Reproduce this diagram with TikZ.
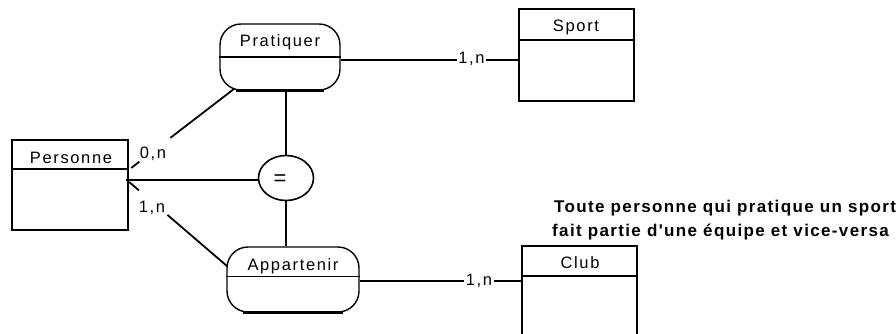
\documentclass[tikz,border=0pt]{standalone}
\usepackage{fontspec}
\setmainfont{Liberation Sans}
\newfontfamily\labfont[LetterSpace=10]{Liberation Sans}
\newfontfamily\notefont[LetterSpace=8]{Liberation Sans}
\usetikzlibrary{shapes.geometric,calc}
\begin{document}
\begin{tikzpicture}[x=1pt,y=-1pt,
  entity/.style={draw, line width=2.3pt, inner sep=0pt},
  relbox/.style={draw, line width=1.4pt, rounded corners=21pt, inner sep=0pt},
  eqshape/.style={draw, ellipse, line width=1.6pt, inner sep=0pt},
  divider/.style={line width=2pt},
  thickbottom/.style={line width=2.8pt},
  conn/.style={line width=2.9pt},
  thinconn/.style={line width=1.8pt},
  lab/.style={font=\labfont\fontsize{16.5}{19}\selectfont, inner sep=0pt, anchor=base},
  card/.style={lab, fill=white, inner xsep=1.5pt, inner ysep=1pt},
  note/.style={font=\notefont\bfseries\fontsize{17}{20}\selectfont, inner sep=0pt, anchor=base west}
]
\useasboundingbox (0,0) rectangle (896,333);

% entities
\node[entity, minimum width=116pt, minimum height=90pt] (pers) at (70,185) {};
\draw[divider] ([yshift=-30pt]pers.north west) -- ([yshift=-30pt]pers.north east);
\node[lab] (perst) at (71,163) {Personne};

\node[entity, minimum width=115pt, minimum height=92pt] (sport) at (576.5,55) {};
\draw[divider] ([yshift=-32pt]sport.north west) -- ([yshift=-32pt]sport.north east);
\node[lab] (sportt) at (576,31.5) {Sport};

\node[entity, minimum width=115pt, minimum height=110pt] (club) at (579.5,301) {};
\draw[divider] ([yshift=-31pt]club.north west) -- ([yshift=-31pt]club.north east);
\node[lab] (clubt) at (580,268) {Club};

% relations
\node[relbox, minimum width=120pt, minimum height=66pt] (prat) at (280,57) {};
\draw[line width=1.4pt] (prat.west) -- (prat.east);
\draw[thickbottom] ([xshift=17pt]prat.south west) -- ([xshift=-17pt]prat.south east);
\node[lab] (pratt) at (280,46.5) {Pratiquer};

\node[relbox, minimum width=132pt, minimum height=65pt] (app) at (293,279.5) {};
\draw[line width=1.4pt] ([yshift=-30pt]app.north west) -- ([yshift=-30pt]app.north east);
\draw[thickbottom] ([xshift=17pt]app.south west) -- ([xshift=-17pt]app.south east);
\node[lab] (appt) at (293,270) {Appartenir};

% constraint
\node[eqshape, minimum width=55pt, minimum height=45pt] (eq) at (286,178) {};
\node[lab, font=\fontsize{22}{24}\selectfont] (eqt) at (280,185.5) {=};

% connectors
\coordinate (pr) at ([yshift=-3pt]prat.east);
\draw[conn] (pr) -- (pr -| sport.west);
\node[card] (c3) at (471.5,63.5) {1,n};

\coordinate (ar) at ([yshift=-1.5pt]app.east);
\draw[conn] (ar) -- (ar -| club.west);
\node[card] (c4) at (479,285.5) {1,n};

\coordinate (pe) at ([yshift=5pt]pers.east);
\draw[conn] ([xshift=-3pt]pe) -- (pe -| eq.west);

\draw[conn] (eq.north |- prat.south) -- (eq.north);
\draw[conn] (eq.south) -- (eq.south |- app.north);

\coordinate (d1a) at ([xshift=2pt,yshift=17pt]pers.east);
\coordinate (d1b) at ([xshift=15pt,yshift=2pt]prat.south west);
\draw[thinconn] (d1a) -- ($(d1a)!0.08!(d1b)$) ($(d1a)!0.38!(d1b)$) -- (d1b);
\node[lab] (c1) at (153,158) {0,n};

\coordinate (d2a) at ([yshift=3pt]pers.east);
\coordinate (d2b) at ([xshift=1pt,yshift=-20pt]app.north west);
\draw[thinconn] (d2a) -- ($(d2a)!0.1!(d2b)$) ($(d2a)!0.39!(d2b)$) -- (d2b);
\node[lab] (c2) at (152,212) {1,n};

% note
\node[note] (n1) at (554,212) {Toute personne qui pratique un sport};
\node[note] (n2) at (552,236) {fait partie d'une équipe et vice-versa};
\end{tikzpicture}
\end{document}
